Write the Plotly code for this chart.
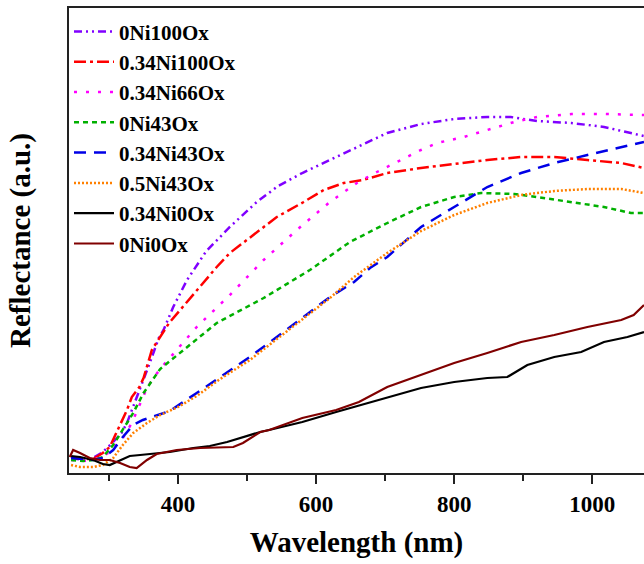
import plotly.graph_objects as go

# ---- data (wavelength in nm, reflectance in arbitrary units) ----
names = ["0Ni100Ox", "0.34Ni100Ox", "0.34Ni66Ox", "0Ni43Ox",
         "0.34Ni43Ox", "0.5Ni43Ox", "0.34Ni0Ox", "0Ni0Ox"]

wl_0Ni100Ox = [245, 262, 277, 291, 306, 318, 326, 335, 342, 350, 359, 372, 379, 393, 413, 441, 475,
               514, 545, 580, 629, 662, 703, 752, 800, 848, 882, 920, 970, 1017, 1075]
r_0Ni100Ox = [15, 13, 15, 21, 31, 40, 50, 66, 80, 93, 110, 135, 143, 166, 193, 222, 246,
              271, 287, 300, 316, 327, 340, 349, 354, 356, 356, 352, 350, 346, 337]

wl_034Ni100Ox = [245, 262, 277, 291, 301, 313, 326, 333, 344, 350, 362, 387, 403, 427, 456, 475, 514,
                 543, 582, 611, 640, 668, 703, 752, 800, 848, 897, 945, 993, 1042, 1075]
r_034Ni100Ox = [15, 14, 14, 20, 26, 43, 63, 76, 86, 95, 123, 150, 163, 183, 206, 220, 241,
                256, 271, 283, 290, 293, 300, 305, 309, 313, 316, 316, 313, 310, 305]

wl_034Ni66Ox = [245, 262, 277, 291, 301, 320, 333, 342, 355, 364, 379, 427, 475, 524, 572, 620, 659,
                688, 723, 752, 775, 814, 848, 887, 920, 970, 1017, 1075]
r_034Ni66Ox = [13, 12, 13, 17, 21, 35, 50, 65, 85, 95, 108, 146, 178, 213, 243, 271, 290,
               301, 313, 323, 330, 336, 343, 351, 356, 359, 359, 358]

wl_0Ni43Ox = [245, 262, 277, 291, 306, 320, 335, 350, 374, 408, 456, 524, 591, 649, 678, 703, 752,
              800, 839, 887, 920, 970, 1017, 1056, 1075]
r_0Ni43Ox = [13, 12, 13, 16, 28, 43, 60, 80, 104, 123, 150, 175, 203, 231, 241, 250, 266,
             276, 280, 279, 276, 271, 266, 260, 260]

wl_034Ni43Ox = [245, 262, 277, 291, 306, 320, 335, 349, 369, 388, 427, 461, 504, 543, 582, 620, 655,
                678, 703, 752, 800, 848, 897, 945, 993, 1042, 1075]
r_034Ni43Ox = [15, 14, 13, 15, 23, 36, 48, 53, 58, 62, 80, 96, 116, 136, 156, 176, 191,
               205, 216, 246, 266, 286, 300, 310, 318, 326, 331]

wl_05Ni43Ox = [245, 258, 277, 291, 306, 320, 335, 355, 374, 400, 427, 461, 504, 543, 582, 620, 655,
               703, 752, 800, 848, 897, 945, 993, 1042, 1075]
r_05Ni43Ox = [8, 6, 6, 8, 15, 28, 40, 50, 58, 66, 77, 94, 113, 134, 155, 175, 196,
              220, 242, 258, 270, 278, 282, 284, 284, 280]

wl_034Ni0Ox = [245, 258, 277, 291, 301, 316, 330, 345, 364, 388, 422, 446, 471, 494, 519, 532, 580,
               629, 655, 703, 752, 800, 848, 877, 906, 945, 984, 1017, 1051, 1075]
r_034Ni0Ox = [17, 16, 13, 9, 8, 13, 17, 18, 19, 21, 25, 27, 31, 36, 41, 43, 51,
              61, 66, 76, 85, 91, 95, 96, 108, 116, 121, 131, 136, 141]

wl_0Ni0Ox = [243, 248, 258, 272, 287, 301, 316, 330, 340, 355, 369, 398, 432, 461, 480, 494, 519,
             532, 580, 629, 662, 703, 752, 800, 848, 897, 945, 993, 1042, 1060, 1075]
r_0Ni0Ox = [16, 23, 20, 15, 13, 13, 10, 6, 5, 13, 19, 23, 25, 26, 26, 30, 41,
            43, 55, 63, 71, 86, 98, 110, 120, 131, 138, 146, 153, 158, 168]

x_ticks = [400, 600, 800, 1000]
x_minor = [300, 500, 700, 900]
x_range = [242, 1075]
y_range = [0, 465]

wls = [wl_0Ni100Ox, wl_034Ni100Ox, wl_034Ni66Ox, wl_0Ni43Ox,
       wl_034Ni43Ox, wl_05Ni43Ox, wl_034Ni0Ox, wl_0Ni0Ox]
rs = [r_0Ni100Ox, r_034Ni100Ox, r_034Ni66Ox, r_0Ni43Ox,
      r_034Ni43Ox, r_05Ni43Ox, r_034Ni0Ox, r_0Ni0Ox]

# ---- styles ----
colors = ["#8000ff", "#ff0000", "#ff00ff", "#00b000",
          "#0000e6", "#ff8000", "#000000", "#800000"]
dashes = ["8px,4px,2px,4px,2px,4px", "12px,4px,3px,4px", "3px,9px", "5px,4px",
          "12px,8px", "2px,2px", "solid", "solid"]
widths = [2.5, 2.5, 2.5, 2.5, 2.5, 2.5, 2.2, 2.2]

FONT = "Liberation Serif"

fig = go.Figure()
for n, x, y, c, d, w in zip(names, wls, rs, colors, dashes, widths):
    fig.add_trace(go.Scatter(x=x, y=y, name=n, mode="lines",
                             line=dict(color=c, dash=d, width=w)))

fig.update_layout(
    width=644, height=564,
    margin=dict(l=69, r=0, t=8, b=91),
    plot_bgcolor="white", paper_bgcolor="white",
    font=dict(family=FONT, size=23, color="black", weight="bold"),
    showlegend=True,
    legend=dict(x=0, y=0.993, xanchor="left", yanchor="top",
                bgcolor="rgba(0,0,0,0)", borderwidth=0,
                font=dict(family=FONT, size=21, weight="bold"),
                itemwidth=40, tracegroupgap=0),
)
fig.update_xaxes(
    range=x_range, tickvals=x_ticks, ticks="outside", ticklen=9, tickwidth=1.5,
    tickcolor="#222", showline=True, linecolor="#222", linewidth=2, mirror=True,
    showgrid=False, zeroline=False,
    minor=dict(tickvals=x_minor, ticks="outside", ticklen=6,
               tickwidth=1.5, tickcolor="#222"),
    tickfont=dict(family=FONT, size=23, weight="bold"),
    title=dict(text="Wavelength (nm)", font=dict(family=FONT, size=29, weight="bold"),
               standoff=16),
)
fig.update_yaxes(
    range=y_range, showticklabels=False, ticks="", showline=True, linecolor="#222",
    linewidth=2, showgrid=False, zeroline=False,
    title=dict(text="Reflectance (a.u.)", font=dict(family=FONT, size=29, weight="bold"),
               standoff=28),
)

fig.write_html("out.html")
